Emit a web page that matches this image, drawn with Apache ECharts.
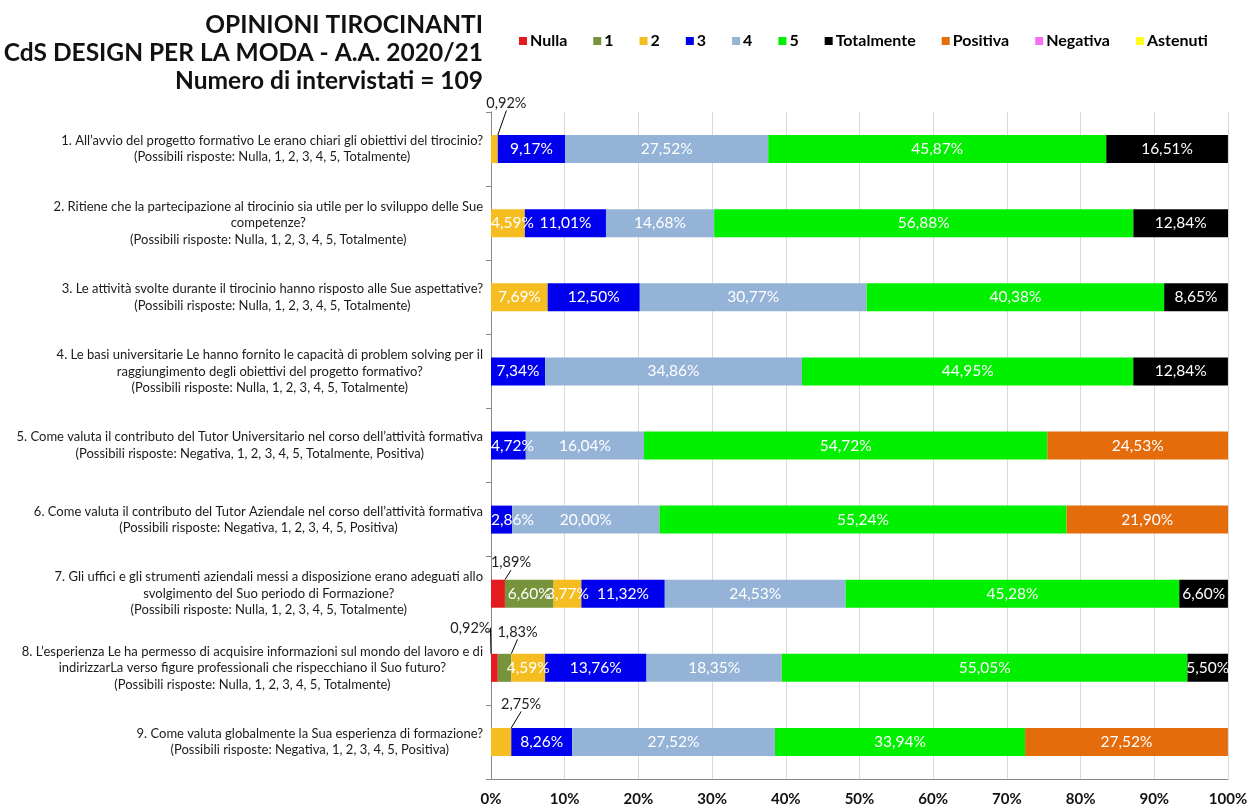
<!DOCTYPE html>
<html>
<head>
<meta charset="utf-8">
<title>Opinioni tirocinanti</title>
<script src="https://cdn.jsdelivr.net/npm/echarts@6/dist/echarts.min.js"></script>
<style>
  html, body { margin: 0; padding: 0; background: #fff; }
  #main { width: 1255px; height: 809px; }
</style>
</head>
<body>
<div id="main"></div>
<script>
// domande (asse verticale, dall'alto in basso)
var domande = [
    '1. All’avvio del progetto formativo Le erano chiari gli obiettivi del tirocinio?\n(Possibili risposte: Nulla, 1, 2, 3, 4, 5, Totalmente)',
    '2. Ritiene che la partecipazione al tirocinio sia utile per lo sviluppo delle Sue\ncompetenze?\n(Possibili risposte: Nulla, 1, 2, 3, 4, 5, Totalmente)',
    '3. Le attività svolte durante il tirocinio hanno risposto alle Sue aspettative?\n(Possibili risposte: Nulla, 1, 2, 3, 4, 5, Totalmente)',
    '4. Le basi universitarie Le hanno fornito le capacità di problem solving per il\nraggiungimento degli obiettivi del progetto formativo?\n(Possibili risposte: Nulla, 1, 2, 3, 4, 5, Totalmente)',
    '5. Come valuta il contributo del Tutor Universitario nel corso dell’attività formativa\n(Possibili risposte: Negativa, 1, 2, 3, 4, 5, Totalmente, Positiva)',
    '6. Come valuta il contributo del Tutor Aziendale nel corso dell’attività formativa\n(Possibili risposte: Negativa, 1, 2, 3, 4, 5, Positiva)',
    '7. Gli uffici e gli strumenti aziendali messi a disposizione erano adeguati allo\nsvolgimento del Suo periodo di Formazione?\n(Possibili risposte: Nulla, 1, 2, 3, 4, 5, Totalmente)',
    '8. L’esperienza Le ha permesso di acquisire informazioni sul mondo del lavoro e di\nindirizzarLa verso figure professionali che rispecchiano il Suo futuro?\n(Possibili risposte: Nulla, 1, 2, 3, 4, 5, Totalmente)',
    '9. Come valuta globalmente la Sua esperienza di formazione?\n(Possibili risposte: Negativa, 1, 2, 3, 4, 5, Positiva)'
];

// percentuali per risposta
var nulla      = [0, 0, 0, 0, 0, 0, 1.89, 0.92, 0];
var uno        = [0, 0, 0, 0, 0, 0, 6.60, 1.83, 0];
var due        = [0.92, 4.59, 7.69, 0, 0, 0, 3.77, 4.59, 2.75];
var tre        = [9.17, 11.01, 12.50, 7.34, 4.72, 2.86, 11.32, 13.76, 8.26];
var quattro    = [27.52, 14.68, 30.77, 34.86, 16.04, 20.00, 24.53, 18.35, 27.52];
var cinque     = [45.87, 56.88, 40.38, 44.95, 54.72, 55.24, 45.28, 55.05, 33.94];
var totalmente = [16.51, 12.84, 8.65, 12.84, 0, 0, 6.60, 5.50, 0];
var positiva   = [0, 0, 0, 0, 24.53, 21.90, 0, 0, 27.52];
var negativa   = [0, 0, 0, 0, 0, 0, 0, 0, 0];
var astenuti   = [0, 0, 0, 0, 0, 0, 0, 0, 0];

var tickValori = [0, 10, 20, 30, 40, 50, 60, 70, 80, 90, 100];

var serie = [
    { nome: 'Nulla', dati: nulla, colore: '#E41A1C' },
    { nome: '1', dati: uno, colore: '#77933C' },
    { nome: '2', dati: due, colore: '#F5BD1F' },
    { nome: '3', dati: tre, colore: '#0000EE' },
    { nome: '4', dati: quattro, colore: '#95B3D7' },
    { nome: '5', dati: cinque, colore: '#00F000' },
    { nome: 'Totalmente', dati: totalmente, colore: '#000000' },
    { nome: 'Positiva', dati: positiva, colore: '#E46C0A' },
    { nome: 'Negativa', dati: negativa, colore: '#F272F2' },
    { nome: 'Astenuti', dati: astenuti, colore: '#FFFF1A' }
];

// etichette spostate fuori dalla barra (valori piccoli)
var spostamenti = {
    'Nulla-6': [13, -31],
    'Nulla-7': [-24, -40],
    '1-7': [13, -36],
    '2-0': [12, -46],
    '2-8': [20, -38]
};

var gridLeft = 491;

function fmt(v) {
    return v.toFixed(2).replace('.', ',') + '%';
}

var chart = echarts.init(document.getElementById('main'));

var seriesList = serie.map(function (s) {
    return {
        name: s.nome,
        type: 'bar',
        stack: 'tot',
        barWidth: 28,
        itemStyle: { color: s.colore },
        label: {
            show: true,
            position: 'inside',
            color: '#fff',
            fontFamily: 'Lato',
            fontSize: 15.5,
            formatter: function (p) { return fmt(p.value); }
        },
        labelLine: { show: true, lineStyle: { color: '#000', width: 1 } },
        labelLayout: function (p) {
            var d = spostamenti[s.nome + '-' + p.dataIndex];
            if (d) return { dx: d[0], dy: d[1] };
            // come in Excel: l'etichetta resta dentro l'area del grafico
            if (p.labelRect && p.labelRect.x < gridLeft) {
                return { dx: gridLeft - p.labelRect.x };
            }
            return {};
        },
        data: s.dati.map(function (v, i) {
            if (!v) return '-';
            if (spostamenti[s.nome + '-' + i]) {
                return { value: v, label: { color: '#222', fontSize: 14.5 } };
            }
            return { value: v, labelLine: { show: false } };
        })
    };
});

var option = {
    animation: false,
    backgroundColor: '#fff',
    title: {
        text: 'OPINIONI TIROCINANTI\nCdS DESIGN PER LA MODA - A.A. 2020/21\nNumero di intervistati = 109',
        left: 478,
        top: 6,
        textAlign: 'right',
        textStyle: {
            fontFamily: 'Lato',
            fontWeight: 'bold',
            fontSize: 24.5,
            lineHeight: 28,
            color: '#111',
            align: 'right'
        }
    },
    legend: {
        left: 514,
        top: 28,
        icon: 'rect',
        itemWidth: 8,
        itemHeight: 8,
        itemGap: 26,
        textStyle: {
            fontFamily: 'Lato',
            fontWeight: 'bold',
            fontSize: 16,
            color: '#000',
            padding: [0, 0, 0, -2]
        },
        data: serie.map(function (s) { return s.nome; })
    },
    grid: {
        left: gridLeft,
        right: 27,
        top: 112,
        bottom: 30
    },
    xAxis: {
        type: 'value',
        min: 0,
        max: 100,
        interval: 10,
        axisLine: { show: true, lineStyle: { color: '#888' } },
        axisTick: { show: false },
        splitLine: { show: true, lineStyle: { color: '#d9d9d9' } },
        axisLabel: {
            fontFamily: 'Lato',
            fontWeight: 'bold',
            fontSize: 15,
            color: '#111',
            margin: 13,
            customValues: tickValori,
            formatter: '{value}%'
        }
    },
    yAxis: {
        type: 'category',
        inverse: true,
        data: domande,
        axisLine: { show: true, lineStyle: { color: '#888' } },
        axisTick: { show: true, length: 5, lineStyle: { color: '#888' } },
        axisLabel: {
            margin: 8,
            align: 'right',
            formatter: function (v) {
                return v.split('\n').map(function (r) { return '{c|' + r + '}'; }).join('\n');
            },
            rich: {
                c: {
                    align: 'center',
                    fontFamily: 'Lato',
                    fontSize: 13,
                    lineHeight: 16.5,
                    color: '#1a1a1a'
                }
            }
        }
    },
    series: seriesList
};

chart.setOption(option);
window.onresize = chart.resize;
</script>
</body>
</html>
